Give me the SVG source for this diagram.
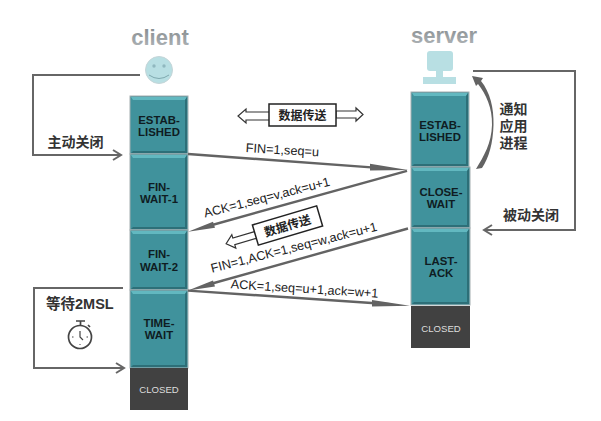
<svg xmlns="http://www.w3.org/2000/svg" width="601" height="421" viewBox="0 0 601 421">
<defs>
<linearGradient id="tg" x1="0" y1="0" x2="0" y2="1"><stop offset="0" stop-color="#808689"/><stop offset="1" stop-color="#b4b9bc"/></linearGradient>
</defs>
<style>
.st{fill:#40929c;stroke:#a3adb0;stroke-width:1}
.hi{fill:#62b8c0}
.sh{fill:#2d6f78}
.lb{font:bold 11.4px "Liberation Sans","Noto Sans CJK SC",sans-serif;fill:#0f1c22;text-anchor:middle}
.cl{font:9.6px "Liberation Sans","Noto Sans CJK SC",sans-serif;fill:#ddd;text-anchor:middle}
.msg{font:12.7px "Liberation Sans","Noto Sans CJK SC",sans-serif;fill:#222}
.cn{font:bold 14px "Liberation Sans","Noto Sans CJK SC",sans-serif;fill:#333}
.cs{font:bold 12px "Liberation Sans","Noto Sans CJK SC",sans-serif;fill:#222;text-anchor:middle}
.ln{fill:none;stroke:#666;stroke-width:2}
.ar{fill:none;stroke:#636363;stroke-width:2.4}
.hd{fill:#636363}
.box{fill:#fff;stroke:#222;stroke-width:1.5}
.dbl{fill:#fff;stroke:#333;stroke-width:1.2}
.ti{font:bold 22px "Liberation Sans",sans-serif;fill:url(#tg);text-anchor:middle}
</style>
<rect width="601" height="421" fill="#fff"/>
<g id="client">
<text class="ti" x="160" y="45">client</text>
<circle cx="159" cy="70" r="13.5" fill="#b8dfe3" stroke="#c5d5d8"/>
<circle cx="154" cy="66" r="1.7" fill="#90b8bf"/><circle cx="164" cy="66" r="1.7" fill="#90b8bf"/>
<path d="M149 75q10 7 20 0" fill="none" stroke="#7fa9af" stroke-width="1"/>
</g>
<g id="server">
<text class="ti" x="444" y="43">server</text>
<rect x="427" y="51" width="26" height="20" rx="3" fill="#b8dfe3"/>
<rect x="436" y="71" width="7" height="7" fill="#b8dfe3"/>
<rect x="423" y="77" width="33" height="7" fill="#b8dfe3"/>
</g>
<g id="c-established"><rect class="st" x="130" y="96" width="58" height="58"/><path class="hi" d="M131 97h56l-2 3h-52z"/><path class="sh" d="M187 97v56l-2-2V100zM131 153h56l-2-2h-52z"/><text class="lb" x="159" y="124">ESTAB-</text><text class="lb" x="159" y="136">LISHED</text></g>
<g id="c-fin-wait-1"><rect class="st" x="130" y="154" width="58" height="76"/><path class="hi" d="M131 155h56l-2 3h-52z"/><path class="sh" d="M187 155v74l-2-2V158zM131 229h56l-2-2h-52z"/><text class="lb" x="159" y="191">FIN-</text><text class="lb" x="159" y="203">WAIT-1</text></g>
<g id="c-fin-wait-2"><rect class="st" x="130" y="230" width="58" height="60"/><path class="hi" d="M131 231h56l-2 3h-52z"/><path class="sh" d="M187 231v58l-2-2V234zM131 289h56l-2-2h-52z"/><text class="lb" x="159" y="258">FIN-</text><text class="lb" x="159" y="271">WAIT-2</text></g>
<g id="c-time-wait"><rect class="st" x="130" y="290" width="58" height="78"/><path class="hi" d="M131 291h56l-2 3h-52z"/><path class="sh" d="M187 291v76l-2-2V294zM131 367h56l-2-2h-52z"/><text class="lb" x="159" y="327">TIME-</text><text class="lb" x="159" y="339">WAIT</text></g>
<g id="c-closed"><rect x="130" y="368" width="58" height="42" fill="#414141"/><text class="cl" x="159" y="393">CLOSED</text></g>
<g id="s-established"><rect class="st" x="411" y="92" width="58" height="75"/><path class="hi" d="M412 93h56l-2 3h-52z"/><path class="sh" d="M468 93v73l-2-2V96zM412 166h56l-2-2h-52z"/><text class="lb" x="440" y="129">ESTAB-</text><text class="lb" x="440" y="141">LISHED</text></g>
<g id="s-close-wait"><rect class="st" x="411" y="167" width="59" height="61"/><path class="hi" d="M412 168h57l-2 3h-53z"/><path class="sh" d="M469 168v59l-2-2V171zM412 227h57l-2-2h-53z"/><text class="lb" x="441" y="196">CLOSE-</text><text class="lb" x="441" y="208">WAIT</text></g>
<g id="s-last-ack"><rect class="st" x="411" y="228" width="59" height="77"/><path class="hi" d="M412 229h57l-2 3h-53z"/><path class="sh" d="M469 229v75l-2-2V232zM412 304h57l-2-2h-53z"/><text class="lb" x="441" y="265">LAST-</text><text class="lb" x="441" y="277">ACK</text></g>
<g id="s-closed"><rect x="411" y="306" width="59" height="42" fill="#414141"/><text class="cl" x="441" y="332">CLOSED</text></g>
<g id="connectors">
<path class="ln" d="M140 75H33V155H121"/><path class="ln" d="M113 150l8 5-8 5"/>
<path class="ln" d="M123 288H34V368H123"/><path class="ln" d="M116 363l8 5-8 5"/>
<path class="ln" d="M473 71H575V230H485"/><path class="ln" d="M492 225l-8 5 8 5"/>
<path class="ar" d="M188 154L385 168.4"/><path class="hd" d="M370 163.8L408 170L370 170.6Z"/>
<path class="ar" d="M407 170.8L205 227"/><path class="hd" d="M188 231.8L213 221.8L215 227.8Z"/>
<path class="ar" d="M408 228.5L205 285.5"/><path class="hd" d="M188 290.6L213 280.6L215 286.6Z"/>
<path class="ar" d="M188 290.6L390 304.2"/><path class="hd" d="M372 300L410 305.8L372 306.6Z"/>
<path class="hd" d="M472 76L483 78L481 81C490 92 494 108 493.500 125C493 143 489 158 482 168L476 169C484 156 491.500 143 492 125C492.500 108 486 94 478 84L476 86Z"/>
</g>
<g id="data-top">
<path class="dbl" d="M270 112H246V109L238 116L246 123V120H270Z"/>
<path class="dbl" d="M336 111H356V108L363 114.500L356 121V118H336Z"/>
<rect class="box" x="269" y="104" width="67" height="22"/>
<text class="cs" x="302.500" y="120">数据传送</text>
</g>
<g id="data-mid" transform="rotate(-16.5 287.5 225.5)">
<path class="dbl" d="M255 222H231.500V218.500L223.500 225.500L231.500 232.500V229H255Z"/>
<rect class="box" x="254" y="215" width="67" height="21"/>
<text class="cs" x="287.500" y="230">数据传送</text>
</g>
<g id="labels">
<text class="msg" x="245.500" y="152" transform="rotate(3.400 245.500 152)">FIN=1,seq=u</text>
<text class="msg" x="205" y="217.500" transform="rotate(-14.300 205 217.500)">ACK=1,seq=v,ack=u+1</text>
<text class="msg" x="212" y="272.700" transform="rotate(-14.300 212 272.700)">FIN=1,ACK=1,seq=w,ack=u+1</text>
<text class="msg" x="230.500" y="288.300" transform="rotate(3.600 230.500 288.300)">ACK=1,seq=u+1,ack=w+1</text>
<text class="cn" x="47.500" y="147">主动关闭</text>
<text class="cn" x="503" y="220">被动关闭</text>
<text class="cn" x="499.500" y="114">通知</text>
<text class="cn" x="499.500" y="131">应用</text>
<text class="cn" x="499.500" y="148">进程</text>
<text class="cn" x="46" y="309" style="font-size:14.500px">等待2MSL</text>
</g>
<g id="timer" fill="none" stroke="#444" stroke-width="1.7">
<circle cx="80" cy="337" r="11.500"/>
<path d="M76 321h9M80.500 321v4M88 325l2 2"/>
<path d="M80 331v6l3 3" stroke-width="1.200"/>
<path d="M72 337h1.500M86.500 337h1.500M80 344v1" stroke-width="1"/>
</g>
</svg>
